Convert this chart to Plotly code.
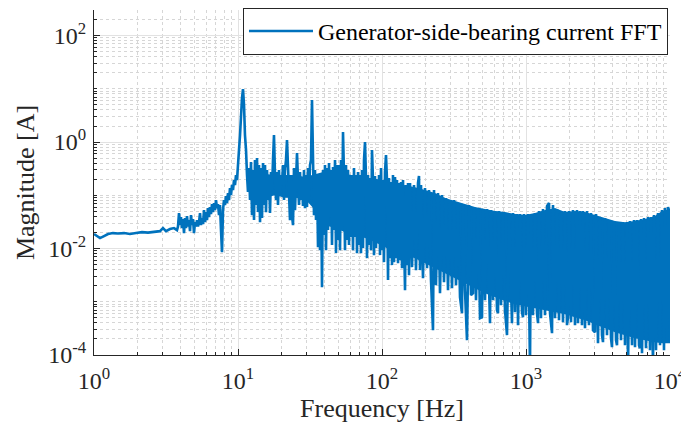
import plotly.graph_objects as go

# ---------------- data ----------------
# Main FFT trace (frequency in Hz, magnitude in A)
freq_hz = [
    1.000, 1.049, 1.101, 1.174, 1.251, 1.355, 1.468, 1.616, 1.778, 1.957,
    2.154, 2.371, 2.610, 2.873, 3.014, 3.162, 3.371, 3.594, 3.770, 3.831,
    3.893, 3.956, 4.019, 4.084, 4.150, 4.217, 4.285, 4.354, 4.424, 4.496,
    4.568, 4.642, 4.717, 4.793, 4.870, 4.949, 5.029, 5.110, 5.192, 5.276,
    5.361, 5.448, 5.535, 5.623, 5.715, 5.807, 5.900, 5.995, 6.092, 6.190,
    6.290, 6.391, 6.494, 6.599, 6.705, 6.813, 6.923, 7.035, 7.148, 7.263,
    7.380, 7.499, 7.620, 7.743, 7.868, 7.994, 8.123, 8.254, 8.387, 8.522,
    8.660, 8.799, 8.941, 9.085, 9.232, 9.380, 9.532, 9.685, 9.841, 10.00,
    10.16, 10.33, 10.49, 10.66, 10.83, 11.01, 11.18, 11.37,
    11.55, 11.73, 11.92, 12.12, 12.31, 12.51, 12.71, 12.92, 13.12, 13.34,
    13.55, 13.77, 13.99, 14.22, 14.45, 14.68, 14.92, 15.16, 15.40, 15.65,
    15.90, 16.16, 16.42, 16.68, 16.95, 17.22, 17.50, 17.78, 18.07, 18.36,
    18.66, 18.96, 19.26, 19.57, 19.89, 20.21, 20.54, 20.87, 21.20, 21.54,
    21.89, 22.24, 22.60, 22.97, 23.34, 23.71, 24.10, 24.48, 24.88, 25.28,
    25.69, 26.10, 26.52, 26.95, 27.38, 27.83, 28.27, 28.73, 29.19, 29.66,
    30.14, 30.63, 31.12, 31.62, 32.13, 32.65, 33.18, 33.71, 34.25, 34.81,
    35.37, 35.94, 36.52, 37.11, 37.70, 38.31, 38.93, 39.56, 40.19, 40.84,
    41.50, 42.17, 42.85, 43.54, 44.24, 44.96, 45.68, 46.42, 47.17, 47.93,
    48.70, 49.49, 50.29, 51.10, 51.92, 52.76, 53.61, 54.48, 55.35, 56.23,
    57.15, 58.07, 59.00, 59.95, 60.92, 61.90, 62.90, 63.91, 64.94, 65.99,
    67.05, 68.13, 69.23, 70.35, 71.48, 72.63, 73.80, 74.99, 76.20, 77.43,
    78.68, 79.94, 81.23, 82.54, 83.87, 85.22, 86.60, 87.99, 89.41, 90.85,
    92.32, 93.80, 95.32, 96.85, 98.41, 100.0,
    101.6, 103.2, 104.9, 106.6, 108.3, 110.1, 111.8, 113.7, 115.5, 117.4,
    119.2, 121.2, 123.1, 125.1, 127.1, 129.2, 131.2, 133.4, 135.5, 137.7,
    139.9, 142.2, 144.5, 146.8, 149.2, 151.6, 154.0, 156.5, 161.6, 166.8,
    172.2, 177.8, 180.7, 183.6, 186.6, 192.6, 198.9, 205.4, 212.0, 218.9,
    226.0, 229.7, 237.1, 244.8, 252.8, 261.0, 269.5, 278.3, 287.3, 296.6,
    306.3, 316.2, 326.5, 337.1, 348.1, 359.4, 365.2, 377.0, 389.3, 401.9,
    415.0, 428.5, 435.4, 449.6, 464.2, 479.3, 494.9, 502.9, 519.2, 536.1,
    553.5, 562.3, 571.5, 590.0, 609.2, 629.0, 639.1, 649.4, 670.5, 692.3,
    714.8, 738.0, 762.0, 786.8, 799.4, 812.3, 838.7, 866.0, 879.9, 908.5,
    938.0, 953.2, 968.5, 1000,
    1032, 1066, 1083, 1118, 1155, 1192, 1212, 1231, 1271, 1312,
    1355, 1399, 1445, 1468, 1516, 1540, 1590, 1642, 1695, 1750,
    1807, 1866, 1926, 1957, 1989, 2054, 2120, 2189, 2260, 2297,
    2371, 2448, 2488, 2569, 2652, 2738, 2827, 2919, 3014, 3063,
    3162, 3265, 3371, 3425, 3537, 3652, 3770, 3893, 3956, 4084,
    4217, 4285, 4424, 4568, 4717, 4870, 5029, 5110, 5276, 5448,
    5623, 5715, 5900, 6092, 6190, 6290, 6391, 6599, 6813, 7035,
    7263, 7380, 7620, 7743, 7994, 8254, 8522, 8799, 9085, 9232,
    9532, 9685, 9841, 10000,
]
magnitude_a = [
    0.0187, 0.0171, 0.0157, 0.0171, 0.0187, 0.0195, 0.0192, 0.0195, 0.0187, 0.0195,
    0.0203, 0.0199, 0.0208, 0.0212, 0.0242, 0.0212, 0.0232, 0.0242, 0.0222, 0.0260,
    0.0463, 0.0275, 0.0389, 0.0242, 0.0357, 0.0195, 0.0373, 0.0242, 0.0406, 0.0260,
    0.0342, 0.0212, 0.0424, 0.0275, 0.0357, 0.0195, 0.0313, 0.0258, 0.0342, 0.0260,
    0.0313, 0.0463, 0.0275, 0.0373, 0.0288, 0.0527, 0.0313, 0.0483, 0.0342, 0.0574,
    0.0389, 0.0600, 0.0443, 0.0684, 0.0483, 0.0714, 0.0527, 0.0813, 0.0574, 0.0684,
    0.0424, 0.0655, 0.0222, 0.00855, 0.0527, 0.0813, 0.0655, 0.0960, 0.0714, 0.110,
    0.0813, 0.137, 0.101, 0.156, 0.125, 0.193, 0.156, 0.240, 0.193, 0.459,
    0.707, 1.35, 3.22, 6.71, 9.90, 4.96, 1.35, 0.707,
    0.240, 0.115, 0.325, 0.0813, 0.421, 0.0424, 0.298, 0.0342, 0.459, 0.0655,
    0.500, 0.0483, 0.370, 0.0313, 0.325, 0.0373, 0.403, 0.0655, 0.370, 0.0483,
    0.298, 0.0813, 0.240, 0.0463, 0.273, 0.125, 0.459, 1.35, 0.240, 0.0813,
    0.273, 0.0655, 0.298, 0.101, 0.240, 0.156, 0.370, 0.0813, 0.298, 0.459,
    1.09, 0.240, 0.0527, 0.0342, 0.240, 0.0424, 0.0275, 0.325, 0.0527, 0.298,
    0.621, 0.193, 0.0655, 0.273, 0.0813, 0.220, 0.0627, 0.298, 0.0574, 0.240,
    0.0600, 0.325, 0.0813, 0.370, 0.459, 6.16, 0.240, 0.0424, 0.298, 0.0342,
    0.240, 0.0106, 0.193, 0.00933, 0.240, 0.00188, 0.298, 0.0179, 0.370, 0.00933,
    0.325, 0.0222, 0.403, 0.0389, 0.298, 0.0116, 0.339, 0.0222, 0.459, 0.0082,
    0.370, 0.0144, 0.370, 0.00933, 0.459, 0.0222, 1.54, 0.240, 0.00933, 0.370,
    0.0144, 0.298, 0.0116, 0.220, 0.0164, 0.240, 0.00933, 0.325, 0.0164, 0.240,
    0.0082, 0.273, 0.0116, 0.240, 0.0082, 0.298, 0.0102, 0.459, 1.00, 0.211,
    0.0066, 0.240, 0.0116, 0.211, 0.00933, 0.707, 0.193, 0.00752, 0.230, 0.0102,
    0.193, 0.0126, 0.240, 0.00752, 0.325, 0.00933,
    0.193, 0.00555, 0.273, 0.570, 0.193, 0.00255, 0.211, 0.0066, 0.177, 0.00488,
    0.240, 0.00555, 0.220, 0.0066, 0.193, 0.00532, 0.170, 0.00605, 0.177, 0.00428,
    0.193, 0.00555, 0.00165, 0.156, 0.00488, 0.170, 0.00316, 0.170, 0.00447, 0.156,
    0.00393, 0.170, 0.230, 0.00393, 0.156, 0.00278, 0.137, 0.00428, 0.125, 0.00255,
    0.000292, 0.125, 0.00205, 0.110, 0.00145, 0.101, 0.00234, 0.0886, 0.00165, 0.0813,
    0.00180, 0.0813, 0.00205, 0.0714, 0.00122, 0.000611, 0.0684, 0.00165, 0.000190, 0.0655,
    0.00133, 0.00145, 0.0600, 0.00107, 0.0574, 0.000492, 0.000514, 0.0550, 0.00107, 0.0550,
    0.000863, 0.000396, 0.0527, 0.00107, 0.0505, 0.000695, 0.000611, 0.0505, 0.000863, 0.0483,
    0.000695, 0.000236, 0.0463, 0.000695, 0.000396, 0.0463, 0.000638, 0.0443, 0.000363, 0.0443,
    0.000638, 0.000514, 0.0443, 0.000560,
    0.0443, 0.00006, 0.0424, 0.000560, 0.0463, 0.000611, 0.000396, 0.0505, 0.000492, 0.0550,
    0.000560, 0.0627, 0.0714, 0.000611, 0.000257, 0.0655, 0.000492, 0.0550, 0.000451, 0.0483,
    0.000414, 0.0505, 0.000363, 0.000514, 0.0505, 0.000414, 0.0527, 0.000363, 0.0527, 0.000396,
    0.0505, 0.000363, 0.0505, 0.000319, 0.0505, 0.000363, 0.0463, 0.000292, 0.000268, 0.0443,
    0.000167, 0.0389, 0.000236, 0.000174, 0.0373, 0.000236, 0.0342, 0.000207, 0.000140, 0.0327,
    0.000190, 0.000153, 0.0313, 0.000190, 0.0313, 0.000153, 0.0313, 0.00006, 0.0327, 0.000153,
    0.0342, 0.000140, 0.0342, 0.000153, 0.000134, 0.0357, 0.000108, 0.0373, 0.000134, 0.0389,
    0.000123, 0.0389, 0.00006, 0.0424, 0.000123, 0.0463, 0.000153, 0.0527, 0.000123, 0.0574,
    0.000174, 0.0600, 0.0527, 0.000190,
]

# Dense part of the spectrum (solid band): frequency, upper and lower edge
band_hz = [11.55, 13.12, 15.40, 18.07, 21.20, 24.88, 29.19, 34.25, 40.19, 47.17,
           55.35, 64.94, 76.20, 89.41, 104.9, 123.1, 144.5, 169.5, 198.9, 233.4,
           273.9, 321.3, 377.0, 442.4, 519.2, 609.2, 714.8, 838.7, 984.2, 1155,
           1355, 1590, 1866, 2189, 2569, 3014, 3537, 4150, 4870, 5715,
           6705, 7868, 8799, 10000]
band_top = [0.200, 0.260, 0.250, 0.240, 0.240, 0.240, 0.220, 0.250, 0.280, 0.280,
            0.250, 0.235, 0.215, 0.205, 0.190, 0.168, 0.155, 0.142, 0.125, 0.110,
            0.0886, 0.0778, 0.0684, 0.0600, 0.0550, 0.0505, 0.0483, 0.0443, 0.0424, 0.0463,
            0.0527, 0.0574, 0.0483, 0.0505, 0.0483, 0.0424, 0.0373, 0.0327, 0.0313, 0.0327,
            0.0357, 0.0406, 0.0505, 0.0550]
band_bottom = [0.125, 0.100, 0.0900, 0.100, 0.0900, 0.0900, 0.0850, 0.0527, 0.0275, 0.0242,
               0.0203, 0.0179, 0.0157, 0.0132, 0.0106, 0.00855, 0.00752, 0.0066, 0.00532, 0.00428,
               0.00347, 0.00278, 0.00224, 0.00180, 0.00145, 0.00122, 0.00103, 0.00090, 0.00083, 0.00076,
               0.000695, 0.000638, 0.000585, 0.000514, 0.000451, 0.00038, 0.000319, 0.000268, 0.000236, 0.000207,
               0.000190, 0.000174, 0.000167, 0.000167]

x_tick_vals = [1, 10, 100, 1000, 10000]
x_tick_text = ["10<sup>0</sup>", "10<sup>1</sup>", "10<sup>2</sup>", "10<sup>3</sup>", "10<sup>4</sup>"]
y_tick_vals = [1e-4, 1e-2, 1, 1e2]
y_tick_text = ["10<sup>-4</sup>", "10<sup>-2</sup>", "10<sup>0</sup>", "10<sup>2</sup>"]

series_name = "Generator-side-bearing current FFT"

# ---------------- figure ----------------
BLUE = "#0072BD"
AXC = "#262626"
FONT = "Liberation Serif"

fig = go.Figure()

fig.add_trace(go.Scatter(
    x=band_hz + band_hz[::-1],
    y=band_top + band_bottom[::-1],
    fill="toself", fillcolor=BLUE, mode="lines",
    line=dict(width=0, color=BLUE),
    showlegend=False, hoverinfo="skip",
))
fig.add_trace(go.Scatter(
    x=freq_hz, y=magnitude_a, mode="lines", name=series_name,
    line=dict(color=BLUE, width=2.6),
))

minor_x = [m * 10 ** e for e in range(0, 4) for m in range(2, 10)]
minor_y = [m * 10.0 ** e for e in range(-4, 3) for m in range(1, 10)
           if not (m == 1 and e % 2 == 0)]

common = dict(
    type="log", showline=True, linecolor=AXC, linewidth=1, mirror=False,
    ticks="inside", ticklen=6, tickwidth=1, tickcolor=AXC,
    showgrid=True, gridcolor="#e2e2e2", gridwidth=1, zeroline=False,
    tickfont=dict(family=FONT, size=24, color=AXC),
    ticklabeloverflow="allow",
)

fig.update_xaxes(
    range=[0, 4], tickmode="array", tickvals=x_tick_vals, ticktext=x_tick_text,
    ticklabelstandoff=4,
    minor=dict(tickmode="array", tickvals=minor_x, ticks="inside", ticklen=3,
               tickcolor=AXC, showgrid=True, gridcolor="#d6d6d6", griddash="dot", gridwidth=1),
    title=dict(text="Frequency [Hz]", font=dict(family=FONT, size=26, color=AXC), standoff=2),
    **common,
)
fig.update_yaxes(
    range=[-4, 2.48], tickmode="array", tickvals=y_tick_vals, ticktext=y_tick_text,
    ticklabelstandoff=2,
    minor=dict(tickmode="array", tickvals=minor_y, ticks="inside", ticklen=3,
               tickcolor=AXC, showgrid=True, gridcolor="#d6d6d6", griddash="dot", gridwidth=1),
    title=dict(text="Magnitude [A]", font=dict(family=FONT, size=26, color=AXC), standoff=6),
    **common,
)

fig.update_layout(
    width=681, height=433,
    margin=dict(l=94, r=11, t=10, b=78, autoexpand=False),
    paper_bgcolor="white", plot_bgcolor="white",
    font=dict(family=FONT, color=AXC),
    showlegend=True,
    legend=dict(
        x=0.9965, y=1.006, xanchor="right", yanchor="top",
        bgcolor="white", bordercolor=AXC, borderwidth=1,
        font=dict(family=FONT, size=24, color="black"),
        itemwidth=64,
    ),
)

fig.write_html("out.html")
